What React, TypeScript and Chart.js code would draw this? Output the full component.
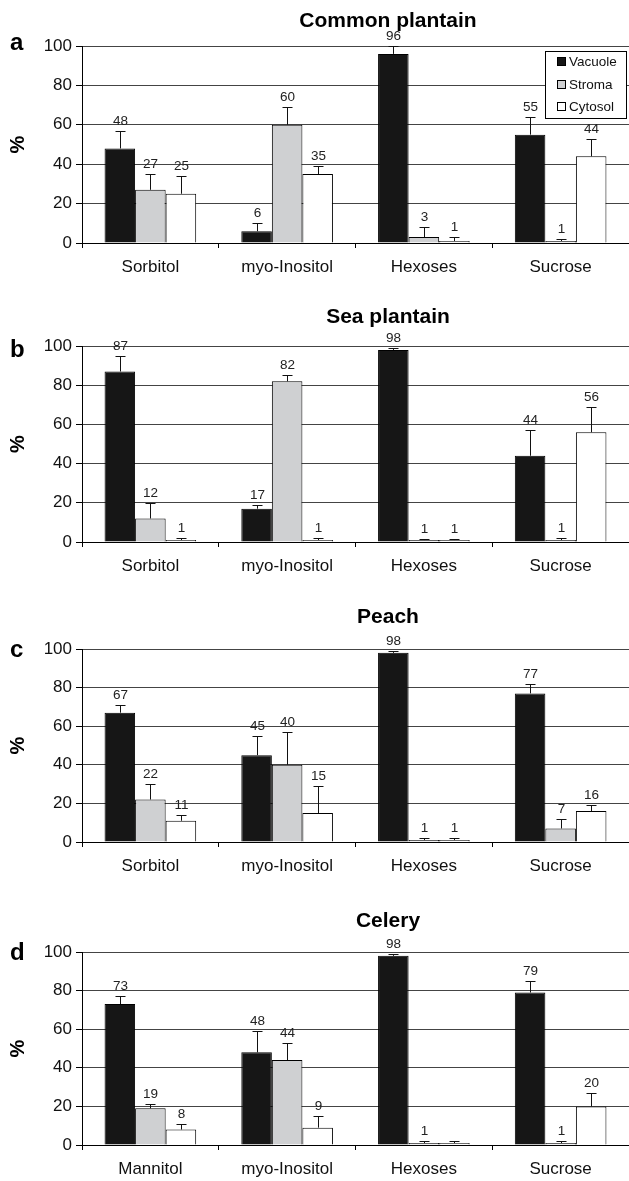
import React, { useEffect, useRef } from 'react';
import { Chart, registerables } from 'chart.js';

Chart.register(...registerables);

const FONT = '"Liberation Sans", Arial, Helvetica, sans-serif';

const seriesNames = ['Vacuole', 'Stroma', 'Cytosol'];
const seriesColors = ['#161616', '#cfd0d2', '#ffffff'];
const categoriesABC = ['Sorbitol', 'myo-Inositol', 'Hexoses', 'Sucrose'];
const categoriesD = ['Mannitol', 'myo-Inositol', 'Hexoses', 'Sucrose'];
const yTickValues = [0, 20, 40, 60, 80, 100];

// a: Common plantain
const commonVacuole = [48, 6, 96, 55];
const commonVacuoleErr = [9, 4, 4, 9];
const commonStroma = [27, 60, 3, 1];
const commonStromaErr = [8, 9, 5, 1];
const commonCytosol = [25, 35, 1, 44];
const commonCytosolErr = [9, 4, 2, 9];

// b: Sea plantain
const seaVacuole = [87, 17, 98, 44];
const seaVacuoleErr = [8, 2, 1, 13];
const seaStroma = [12, 82, 1, 1];
const seaStromaErr = [8, 3, 0.5, 1];
const seaCytosol = [1, 1, 1, 56];
const seaCytosolErr = [1, 1, 0.5, 13];

// c: Peach
const peachVacuole = [67, 45, 98, 77];
const peachVacuoleErr = [4, 10, 1, 5];
const peachStroma = [22, 40, 1, 7];
const peachStromaErr = [8, 17, 1, 5];
const peachCytosol = [11, 15, 1, 16];
const peachCytosolErr = [3, 14, 1, 3];

// d: Celery
const celeryVacuole = [73, 48, 98, 79];
const celeryVacuoleErr = [4, 11, 1, 6];
const celeryStroma = [19, 44, 1, 1];
const celeryStromaErr = [2, 9, 1, 1];
const celeryCytosol = [8, 9, 1, 20];
const celeryCytosolErr = [3, 6, 1, 7];
// value labels not printed: [series index, category index]
const celeryHiddenLabels = [[2, 2]];

type Panel = {
  letter: string;
  title: string;
  categories: string[];
  values: number[][];
  errors: number[][];
  hidden: number[][];
  legend: boolean;
  top: number;
  height: number;
  plotTop: number;
  plotBottom: number;
  titleY: number;
  letterY: number;
};

const panels: Panel[] = [
  {
    letter: 'a', title: 'Common plantain', categories: categoriesABC,
    values: [commonVacuole, commonStroma, commonCytosol],
    errors: [commonVacuoleErr, commonStromaErr, commonCytosolErr],
    hidden: [], legend: true,
    top: 0, height: 290, plotTop: 46, plotBottom: 243, titleY: 21, letterY: 43,
  },
  {
    letter: 'b', title: 'Sea plantain', categories: categoriesABC,
    values: [seaVacuole, seaStroma, seaCytosol],
    errors: [seaVacuoleErr, seaStromaErr, seaCytosolErr],
    hidden: [], legend: false,
    top: 290, height: 300, plotTop: 56, plotBottom: 252, titleY: 27, letterY: 60,
  },
  {
    letter: 'c', title: 'Peach', categories: categoriesABC,
    values: [peachVacuole, peachStroma, peachCytosol],
    errors: [peachVacuoleErr, peachStromaErr, peachCytosolErr],
    hidden: [], legend: false,
    top: 590, height: 290, plotTop: 59, plotBottom: 252, titleY: 27, letterY: 60,
  },
  {
    letter: 'd', title: 'Celery', categories: categoriesD,
    values: [celeryVacuole, celeryStroma, celeryCytosol],
    errors: [celeryVacuoleErr, celeryStromaErr, celeryCytosolErr],
    hidden: celeryHiddenLabels, legend: false,
    top: 880, height: 301, plotTop: 72, plotBottom: 265, titleY: 41, letterY: 73,
  },
];

function PanelChart({ panel }: { panel: Panel }) {
  const ref = useRef<HTMLCanvasElement>(null);
  useEffect(() => {
    const canvas = ref.current!;
    const extras = {
      id: 'extras',
      afterDatasetsDraw(chart: any) {
        const ctx = chart.ctx;
        const ys = chart.scales.y;
        panel.values.forEach((vals, di) => {
          const meta = chart.getDatasetMeta(di);
          meta.data.forEach((el: any, i: number) => {
            const top = Math.round(ys.getPixelForValue(vals[i] + panel.errors[di][i])) + 0.5;
            const x = Math.round(el.x) + 0.5;
            ctx.save();
            ctx.strokeStyle = '#111';
            ctx.lineWidth = 1;
            ctx.beginPath();
            ctx.moveTo(x, el.y);
            ctx.lineTo(x, top);
            ctx.moveTo(x - 5, top);
            ctx.lineTo(x + 5, top);
            ctx.stroke();
            const isHidden = panel.hidden.some((h) => h[0] === di && h[1] === i);
            if (!isHidden) {
              ctx.fillStyle = '#222';
              ctx.font = `13.5px ${FONT}`;
              ctx.textAlign = 'center';
              ctx.textBaseline = 'bottom';
              ctx.fillText(String(vals[i]), x, top - 3);
            }
            ctx.restore();
          });
        });
      },
      afterDraw(chart: any) {
        const ctx = chart.ctx;
        const area = chart.chartArea;
        ctx.save();
        // title
        ctx.fillStyle = '#000';
        ctx.font = `bold 21px ${FONT}`;
        ctx.textAlign = 'center';
        ctx.textBaseline = 'middle';
        ctx.fillText(panel.title, 388, panel.titleY);
        // panel letter
        ctx.font = `bold 24px ${FONT}`;
        ctx.textAlign = 'left';
        ctx.fillText(panel.letter, 10, panel.letterY);
        // % axis title
        ctx.save();
        ctx.translate(18, (area.top + area.bottom) / 2);
        ctx.rotate(-Math.PI / 2);
        ctx.font = `bold 20px ${FONT}`;
        ctx.textAlign = 'center';
        ctx.textBaseline = 'middle';
        ctx.fillText('%', 0, 0);
        ctx.restore();
        // legend
        if (panel.legend) {
          const bx = 545.5, by = 51.5, bw = 81, bh = 67;
          ctx.fillStyle = '#fff';
          ctx.fillRect(bx, by, bw, bh);
          ctx.strokeStyle = '#000';
          ctx.lineWidth = 1;
          ctx.strokeRect(bx, by, bw, bh);
          const rows = [62, 85, 107];
          seriesNames.forEach((name, k) => {
            ctx.fillStyle = seriesColors[k];
            ctx.fillRect(557, rows[k] - 5, 9, 9);
            ctx.strokeStyle = '#000';
            ctx.strokeRect(557.5, rows[k] - 4.5, 8, 8);
            ctx.fillStyle = '#111';
            ctx.font = `13.5px ${FONT}`;
            ctx.textAlign = 'left';
            ctx.textBaseline = 'middle';
            ctx.fillText(name, 569, rows[k] + 0.5);
          });
        }
        ctx.restore();
      },
    };
    const chart = new Chart(canvas, {
      type: 'bar',
      data: {
        labels: panel.categories,
        datasets: panel.values.map((vals, di) => ({
          label: seriesNames[di],
          data: vals,
          backgroundColor: seriesColors[di],
          borderColor: '#000',
          borderWidth: 1,
          categoryPercentage: 0.67,
          barPercentage: 1,
        })),
      },
      options: {
        responsive: false,
        animation: false,
        devicePixelRatio: 1,
        layout: { padding: { top: panel.plotTop, left: 0, right: 0, bottom: 0 } },
        plugins: { legend: { display: false }, tooltip: { enabled: false }, title: { display: false } },
        scales: {
          x: {
            afterFit: (s: any) => { s.height = panel.height - panel.plotBottom; },
            grid: {
              offset: true, drawOnChartArea: false, drawTicks: true,
              tickLength: 5, color: '#000', tickColor: '#000',
            },
            border: { display: true, color: '#000', width: 1 },
            ticks: {
              color: '#111', font: { family: FONT, size: 17 }, padding: 9,
              maxRotation: 0, autoSkip: false,
            },
          },
          y: {
            min: 0, max: 100,
            afterFit: (s: any) => { s.width = 82; },
            afterBuildTicks: (s: any) => { s.ticks = yTickValues.map((v) => ({ value: v })); },
            grid: { color: '#444', lineWidth: 1, tickLength: 6, tickColor: '#000', drawTicks: true },
            border: { display: true, color: '#000', width: 1 },
            ticks: { color: '#111', font: { family: FONT, size: 17 }, padding: 4 },
          },
        },
      },
      plugins: [extras],
    } as any);
    return () => chart.destroy();
  }, [panel]);
  return (
    <canvas
      ref={ref}
      width={629}
      height={panel.height}
      style={{ position: 'absolute', left: 0, top: panel.top, width: 629, height: panel.height }}
    />
  );
}

export default function App() {
  return (
    <div style={{ position: 'absolute', left: 0, top: 0, width: 629, height: 1181, background: '#fff' }}>
      {panels.map((p) => (
        <PanelChart key={p.letter} panel={p} />
      ))}
    </div>
  );
}
